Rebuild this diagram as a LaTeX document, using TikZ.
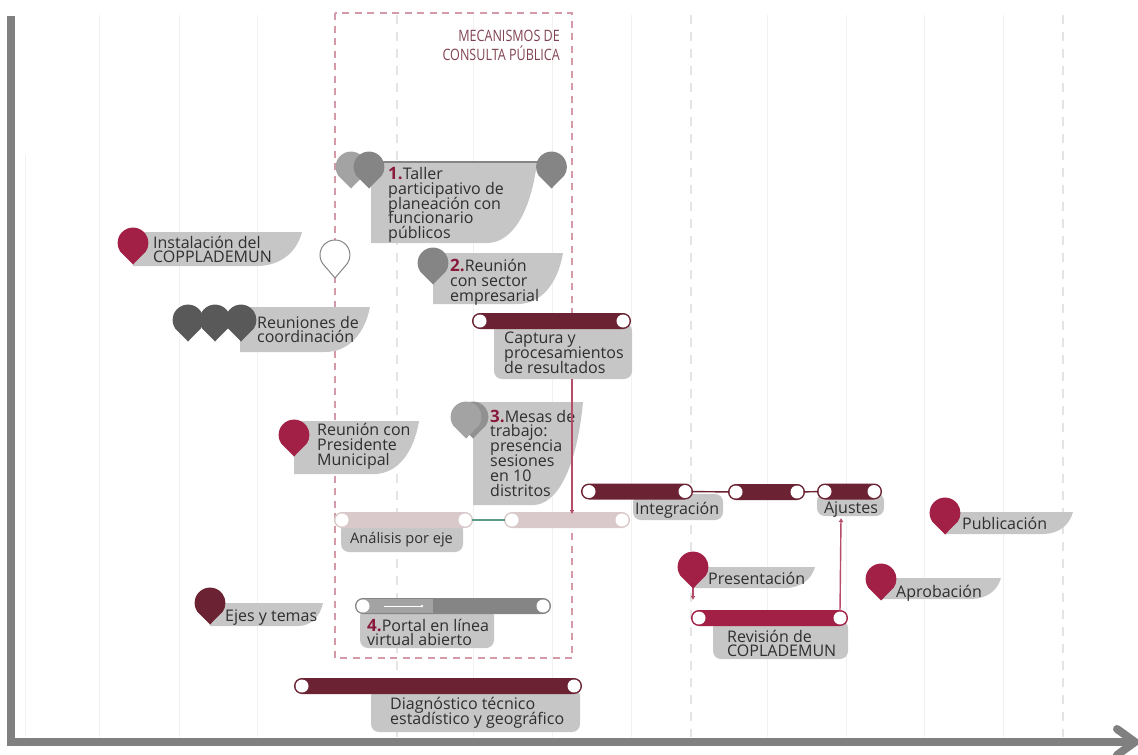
\documentclass[tikz,border=0pt]{standalone}
\usepackage{fontspec}
\setmainfont{Open Sans}
\newfontfamily\narrowfont[FakeStretch=0.8]{Open Sans}
\usetikzlibrary{arrows.meta}
\definecolor{wine}{HTML}{6B2233}
\definecolor{crimson}{HTML}{A21F45}
\definecolor{rosebar}{HTML}{D9C9CA}
\definecolor{labelgray}{HTML}{C6C6C6}
\definecolor{axisgray}{HTML}{808080}
\definecolor{pinmid}{HTML}{858585}
\definecolor{pinlight}{HTML}{A3A3A3}
\definecolor{pindark}{HTML}{595959}
\definecolor{inktext}{HTML}{2F2F2F}
\definecolor{boxpink}{HTML}{D49AA8}
\definecolor{gridcol}{HTML}{F1F1F1}
\definecolor{griddash}{HTML}{E4E4E4}
\definecolor{linkgreen}{HTML}{5F9B8A}
\newcommand{\labfont}{\fontsize{16}{14.8}\selectfont\lineskiplimit=-20pt\relax}
\tikzset{
  lab/.style={font=\labfont, text=inktext, align=left, anchor=west, inner sep=0pt},
  head/.style={font=\narrowfont\fontsize{15.7}{19}\selectfont, text=wine!85!white, align=right, anchor=north east, inner sep=0pt},
  hole/.style={circle, fill=white, minimum size=13pt, inner sep=0pt},
  linkline/.style={line width=1.4pt},
  tipline/.style={line width=1.4pt, crimson!80!white, -{Latex[length=4pt,width=5pt]}}
}
\newcommand{\numb}[1]{{\bfseries\color{crimson!85!black}\fontsize{17}{14.8}\selectfont #1}}
% pin: x, y, colour
\newcommand{\pin}[3]{\fill[#3] (#1,#2+21.5) -- (#1-12.6,#2+8.8) arc[start angle=145,end angle=395,radius=15.4] -- cycle;}
% soft label: x1,y1,x2,y2,curve width
\newcommand{\softlabel}[5]{\fill[labelgray] (#1,#2) -- (#3,#2) .. controls (#3-0.12*#5,#2+0.62*#4-0.62*#2) and (#3-0.5*#5,#4) .. (#3-#5,#4) -- (#1,#4) -- cycle;}
% label under a bar: x1,y1,x2,y2
\newcommand{\barlabel}[4]{\fill[labelgray,rounded corners=8pt] (#1,#2-6) -- (#3,#2-6) -- (#3,#4) -- (#1,#4) -- cycle;}
% bar: name, x1, x2, ymid, fill, border
\newcommand{\tbar}[6]{%
  \fill[#5,draw=#6,line width=1.2pt,rounded corners=7.4pt] (#2+.6,#4-7.4) rectangle (#3-.6,#4+7.4);
  \node[hole] (#1a) at (#2+8,#4) {};
  \node[hole] (#1b) at (#3-8,#4) {};
}
\begin{document}
\begin{tikzpicture}[x=1pt,y=-1pt]
\useasboundingbox (0,0) rectangle (1138,755);
% grid
\foreach \gx in {99,179,257,473,552,631,767,846,924,1003}
  \draw[gridcol,line width=1pt] (\gx,15) -- (\gx,737);
\draw[gridcol,line width=1pt] (25,155) -- (25,737);
\foreach \gx in {397,691,1063}
  \draw[griddash,line width=1.3pt,dash pattern=on 9pt off 8pt] (\gx,15) -- (\gx,737);
% axes
\coordinate (origin) at (11,742);
\coordinate (ytop) at (11,16);
\coordinate (xend) at (1135,742);
\draw[axisgray,line width=8pt] (ytop) -- (origin) -- (xend);
\draw[axisgray,line width=8pt,line cap=round,line join=miter] (1117,729) -- (1135,742) -- (1117,755);
% dashed frame
\draw[boxpink,line width=1.1pt,dash pattern=on 7pt off 5.5pt] (335,13) rectangle (572,658);
\node[head] (mec) at (560,30) {MECANISMOS DE\\CONSULTA PÚBLICA};
% 1 Taller
\softlabel{371}{162}{537}{243}{50}
\pin{351}{167}{pinlight}
\draw[pinmid,line width=2.5pt] (369,162) -- (551,162);
\pin{369}{167}{pinmid}
\pin{551.5}{167}{pinmid}
\node[lab] (taller) at (388,205) {\numb{1.}Taller\\participativo de\\planeación con\\funcionario\\públicos};
% white pin
\fill[white,draw=pinmid,line width=1pt] (335,278) -- (322.7,263.6) arc[start angle=145,end angle=395,radius=15] -- cycle;
% 2 Reunion
\softlabel{433}{253}{563}{304}{45}
\pin{433}{263}{pinmid}
\node[lab] (sector) at (450,282.5) {\numb{2.}Reunión\\con sector\\empresarial};
% Instalacion
\softlabel{133}{232}{302}{266}{45}
\pin{133}{243}{crimson}
\node[lab] (inst) at (153,249.5) {Instalación del\\COPPLADEMUN};
% Reuniones
\softlabel{240}{307}{370}{352}{45}
\pin{188}{320}{pindark}
\pin{215}{320}{pindark}
\pin{241}{320}{pindark}
\node[lab] (coord) at (257,329.5) {Reuniones de\\coordinación};
% Presidente
\softlabel{294}{421}{419}{474}{45}
\pin{294}{435}{crimson}
\node[lab] (pres) at (317,446) {Reunión con\\Presidente\\Municipal};
% 3 Mesas
\softlabel{473}{402}{583}{505}{50}
\pin{473}{417}{pinmid!90!white}
\pin{466}{417}{pinlight}
\node[lab] (mesas) at (490,453) {\numb{3.}Mesas de\\trabajo:\\presencia\\sesiones\\en 10\\distritos};
% Captura
\barlabel{494}{329}{632}{379}
\tbar{cap}{472}{631}{321}{wine}{wine}
\node[lab] (captura) at (504,353) {Captura y\\procesamientos\\de resultados};
% Analisis
\barlabel{341}{528}{463}{552}
\tbar{ana}{334}{473}{520}{rosebar}{rosebar}
\node[lab,font=\fontsize{14.6}{14.8}\selectfont] (analisis) at (350,540) {Análisis por eje};
\tbar{anb}{504}{630}{520}{rosebar}{rosebar}
\draw[linkgreen,linkline] (anab) -- (anba);
% Integracion
\barlabel{633}{500}{723}{520}
\tbar{int}{581}{693}{491.5}{wine}{wine}
\node[lab] (integ) at (635,510) {Integración};
\barlabel{817}{499}{884}{516}
\tbar{mid}{728}{805}{492}{wine}{wine}
\tbar{aju}{817}{882}{491.5}{wine}{wine}
\draw[wine,linkline] (intb) -- (mida);
\draw[wine,linkline] (midb) -- (ajua);
\node[lab,anchor=center] (ajustes) at (851,509.5) {Ajustes};
% Publicacion
\softlabel{945}{512}{1073}{534}{30}
\pin{945}{513}{crimson}
\node[lab] (pub) at (962,523) {Publicación};
% Presentacion
\softlabel{693}{567}{815}{588}{30}
\coordinate (presTip) at (693,580);
\coordinate (presEnd) at (693,600);
\draw[tipline] (presTip) -- (presEnd);
\pin{693}{567}{crimson}
\node[lab] (presen) at (708,578) {Presentación};
% Aprobacion
\softlabel{881}{578}{1001}{599}{30}
\pin{881}{579}{crimson}
\node[lab] (apro) at (896,593) {Aprobación};
% Revision
\barlabel{713}{626}{848}{659}
\tbar{rev}{691}{848}{618}{crimson}{crimson}
\node[lab] (revi) at (727,643.5) {Revisión de\\COPLADEMUN};
\coordinate (ajuEnd) at (841,518);
\draw[tipline] (revb.north) -- (ajuEnd);
% Ejes
\softlabel{210}{603}{323}{626}{25}
\pin{210}{603}{wine}
\node[lab] (ejes) at (225,618) {Ejes y temas};
% Portal
\barlabel{360}{614}{494}{648}
\tbar{por}{355}{551}{606}{pinmid}{pinmid}
\fill[pinlight] (362,598.6) rectangle (433,613.4);
\node[hole] (pora2) at (363,606) {};
\coordinate (whiteS) at (384,606);
\coordinate (whiteE) at (424,606);
\draw[white,line width=.9pt,-{Latex[length=3pt,width=3pt]}] (whiteS) -- (whiteE);
\node[lab] (portal) at (367,632.5) {\numb{4.}Portal en línea\\virtual abierto};
% Diagnostico
\barlabel{371}{694}{580}{732}
\tbar{dia}{294}{582}{686}{wine}{wine}
\node[lab] (diag) at (390,712.5) {Diagnóstico técnico\\estadístico y geográfico};
% Captura to analysis arrow
\coordinate (capS) at (572,379);
\coordinate (capE) at (572,514);
\draw[tipline] (capS) -- (capE);
\end{tikzpicture}
\end{document}
